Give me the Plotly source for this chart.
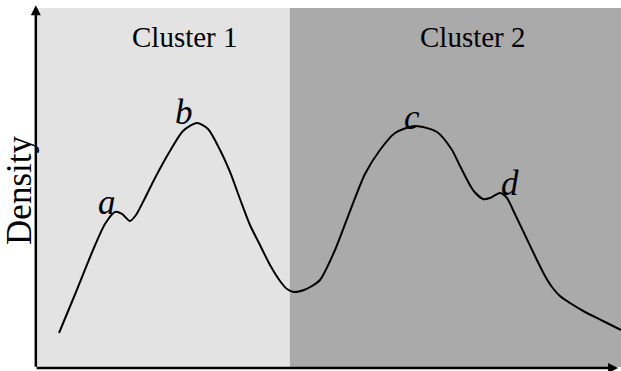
import plotly.graph_objects as go

# Density curve (arbitrary units)
x_vals = [3.77, 6.68, 9.59, 11.64, 13.36, 14.55, 15.92, 16.95, 18.32, 19.86, 21.40, 22.77,
          25.00, 27.40, 29.28, 31.34, 33.05, 34.76, 36.47, 38.18, 39.90, 41.61, 42.81,
          44.01, 45.72, 47.09, 48.46, 51.03, 53.60, 56.16, 58.73, 61.30, 64.73, 68.49,
          71.06, 72.43, 74.66, 76.37, 77.57, 79.28, 80.48, 81.51, 83.56, 85.27, 86.99,
          88.18, 89.55, 91.27, 93.84, 96.92, 100.0]
density = [9.47, 20.89, 32.59, 39.83, 43.18, 42.62, 40.67, 42.34, 46.52, 51.53, 56.27, 60.17,
           65.74, 67.97, 66.30, 60.45, 54.32, 46.80, 39.55, 33.98, 28.41, 23.96, 21.73,
           20.89, 21.45, 22.56, 24.23, 32.59, 43.45, 53.76, 60.45, 65.18, 67.13, 65.46,
           60.45, 55.99, 49.30, 46.80, 47.08, 48.47, 47.08, 43.73, 36.77, 30.92, 25.35,
           22.28, 19.78, 17.83, 15.32, 12.81, 10.31]

cluster_names = ["Cluster 1", "Cluster 2"]
cluster_bounds = [0, 43.3, 100]
cluster_label_x = [25.3, 74.7]
cluster_colors = ["#e3e3e3", "#aaaaaa"]

peak_labels = ["a", "b", "c", "d"]
peak_x = [12.0, 25.2, 64.2, 81.0]
peak_y = [45.7, 70.8, 69.6, 51.0]

fig = go.Figure()

shapes = []
for i in range(2):
    shapes.append(dict(type="rect", xref="x", yref="paper",
                       x0=cluster_bounds[i], x1=cluster_bounds[i + 1], y0=0, y1=1,
                       fillcolor=cluster_colors[i], line=dict(width=0), layer="below"))

fig.add_trace(go.Scatter(x=x_vals, y=density, mode="lines",
                         line=dict(color="black", width=2, shape="spline", smoothing=0.7),
                         hoverinfo="skip", showlegend=False))

annotations = []
for name, lx in zip(cluster_names, cluster_label_x):
    annotations.append(dict(x=lx, y=0.92, xref="x", yref="paper", text=name,
                            showarrow=False, xanchor="center", yanchor="middle",
                            font=dict(family="Liberation Serif", size=29, color="black")))
for lab, px, py in zip(peak_labels, peak_x, peak_y):
    annotations.append(dict(x=px, y=py, xref="x", yref="y", text="<i>" + lab + "</i>",
                            showarrow=False, xanchor="center", yanchor="middle",
                            font=dict(family="Liberation Serif", size=35, color="black")))

# axes with arrow heads
annotations.append(dict(x=-0.002, y=1.008, xref="paper", yref="paper", showarrow=True,
                        ax=0, ay=363, axref="pixel", ayref="pixel", text="",
                        arrowhead=2, arrowsize=0.8, arrowwidth=2.5, arrowcolor="black"))
annotations.append(dict(x=0.995, y=-0.003, xref="paper", yref="paper", showarrow=True,
                        ax=-583, ay=0, axref="pixel", ayref="pixel", text="",
                        arrowhead=2, arrowsize=0.8, arrowwidth=2.5, arrowcolor="black"))
annotations.append(dict(x=-0.031, y=0.493, xref="paper", yref="paper", text="Density",
                        showarrow=False, textangle=-90, xanchor="center", yanchor="middle",
                        font=dict(family="Liberation Serif", size=35, color="black")))

fig.update_layout(
    width=621, height=371,
    margin=dict(l=37, r=0, t=8, b=4),
    paper_bgcolor="white", plot_bgcolor="white",
    xaxis=dict(range=[0, 100], visible=False, fixedrange=True),
    yaxis=dict(range=[0, 100], visible=False, fixedrange=True),
    shapes=shapes, annotations=annotations, showlegend=False,
)

fig.write_html("out.html", post_script="document.body.style.margin='0';",
               config={"displayModeBar": False})
